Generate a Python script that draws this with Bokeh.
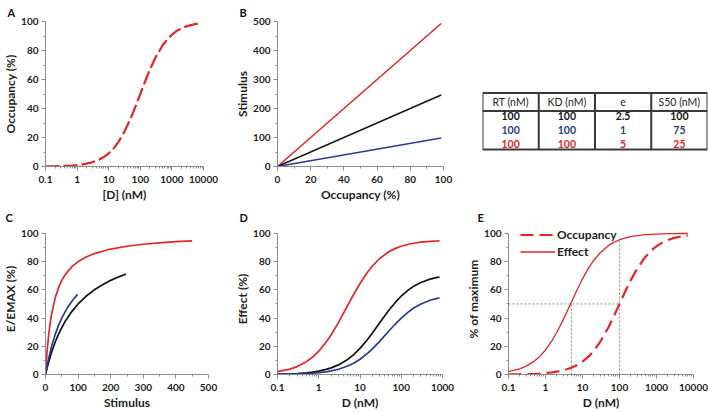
from bokeh.plotting import figure
from bokeh.layouts import row, column
from bokeh.models import Range1d, FixedTicker, Title, ColumnDataSource
from bokeh.embed import file_html
from bokeh.resources import INLINE
from bokeh.core.properties import value

RED = "#e3252b"
BLUE = "#273c8c"
BLACK = "#141414"
FONT = "Lato"

# ---------------- data ----------------
# Panel A / E : occupancy (%) vs [D] (nM)
d_conc = [0.1, 0.2, 0.3, 0.5, 0.7, 1, 1.5, 2, 3, 5, 7, 10, 15, 20, 30, 50, 70,
          100, 150, 200, 300, 500, 700, 1000, 1500, 2000, 3000, 5000, 7000]
occupancy = [0.1, 0.2, 0.3, 0.5, 0.7, 1.0, 1.5, 2.0, 2.9, 4.8, 6.5, 9.1, 13.0, 16.7,
             23.1, 33.3, 41.2, 50.0, 60.0, 66.7, 75.0, 83.3, 87.5, 90.9, 93.8, 95.2,
             96.8, 98.0, 98.6]
# Panel E : normalised effect (% of maximum)
effect_norm = [2.1, 4.0, 5.9, 9.5, 12.8, 17.4, 24.0, 29.6, 38.7, 51.2, 59.5, 67.8,
               75.9, 80.8, 86.3, 91.3, 93.6, 95.5, 96.9, 97.7, 98.4, 99.1, 99.3,
               99.5, 99.7, 99.8, 99.8, 99.9, 99.9]
e_half = 50
e_ec50 = 5
e_kd = 100
e_eff_at_kd = 95.5

# Panel B : stimulus vs occupancy
b_occ = [0, 98.6]
b_red = [0, 493]
b_black = [0, 246.5]
b_blue = [0, 98.6]

# Panel C : E/EMAX vs stimulus
c_red_s = [0, 2, 5, 10, 15, 20, 30, 40, 50, 60, 80, 100, 125, 150, 200, 250, 300, 350, 400, 450]
c_red_e = [0, 7.4, 16.7, 28.6, 37.5, 44.4, 54.5, 61.5, 66.7, 70.6, 76.2, 80.0, 83.3,
           85.7, 88.9, 90.9, 92.3, 93.3, 94.1, 94.7]
c_black_s = [0, 5, 10, 20, 30, 40, 50, 60, 80, 100, 125, 150, 175, 200, 225, 247]
c_black_e = [0, 4.8, 9.1, 16.7, 23.1, 28.6, 33.3, 37.5, 44.4, 50.0, 55.6, 60.0, 63.6,
             66.7, 69.2, 71.2]
c_blue_s = [0, 5, 10, 20, 30, 40, 50, 60, 70, 80, 90, 98.6]
c_blue_e = [0, 6.3, 11.8, 21.1, 28.6, 34.8, 40.0, 44.4, 48.3, 51.6, 54.5, 56.8]

# Panel D : effect (%) vs D (nM)
d_x = [0.1, 0.2, 0.3, 0.5, 0.7, 1, 1.5, 2, 3, 5, 7, 10, 15, 20, 30, 50, 70,
       100, 150, 200, 300, 500, 700, 850]
d_red = [2.0, 3.8, 5.6, 9.1, 12.2, 16.5, 22.8, 28.2, 36.8, 48.8, 56.7, 64.5, 72.3,
         76.9, 82.2, 87.0, 89.2, 90.9, 92.3, 93.0, 93.8, 94.3, 94.6, 94.7]
d_black = [0.2, 0.5, 0.7, 1.2, 1.7, 2.4, 3.6, 4.7, 6.8, 10.6, 14.1, 18.5, 24.6, 29.4,
           36.6, 45.5, 50.7, 55.6, 60.0, 62.5, 65.2, 67.6, 68.6, 69.1]
d_blue = [0.1, 0.3, 0.4, 0.7, 0.9, 1.3, 1.9, 2.6, 3.7, 6.0, 8.0, 10.8, 14.8, 18.2,
          23.5, 30.8, 35.4, 40.0, 44.4, 47.1, 50.0, 52.6, 53.8, 54.4]

# Table
table_headers = ["RT (nM)", "KD (nM)", "e", "S50 (nM)"]
table_rows = [["100", "100", "2.5", "100"],
              ["100", "100", "1", "75"],
              ["100", "100", "5", "25"]]
table_colors = [BLACK, BLUE, RED]

# Ticks
pct_ticks = [0, 20, 40, 60, 80, 100]
a_xticks = [0.1, 1, 10, 100, 1000, 10000]
a_xlabels = ["0.1", "1", "10", "100", "1000", "10000"]
b_yticks = [0, 100, 200, 300, 400, 500]
c_xticks = [0, 100, 200, 300, 400, 500]
d_xticks = [0.1, 1, 10, 100, 1000]
d_xlabels = ["0.1", "1", "10", "100", "1000"]


def lin_minor(t):
    return [(a + b) / 2 for a, b in zip(t[:-1], t[1:])]


def log_minor(t):
    out = []
    for base in t[:-1]:
        out += [m * base for m in range(2, 10)]
    return out


def make_fig(w, h, left, right, top, bottom, xlog=False, xr=(0, 1), yr=(0, 1)):
    p = figure(width=w, height=h, output_backend="svg", toolbar_location=None,
               x_axis_type="log" if xlog else "linear",
               x_range=Range1d(*xr), y_range=Range1d(*yr),
               min_border_left=left, min_border_right=right,
               min_border_top=top, min_border_bottom=bottom)
    p.outline_line_color = None
    p.grid.visible = False
    p.background_fill_color = "white"
    p.border_fill_color = "white"
    return p


def style_axes(p, xlabel, ylabel, xticks, yticks, xlog=False, xlabels=None, ybounds=None):
    for ax in p.axis:
        ax.axis_line_color = "#8c8c8c"
        ax.axis_line_width = 1
        ax.major_tick_line_color = "#8c8c8c"
        ax.minor_tick_line_color = "#8c8c8c"
        ax.major_tick_in = 0
        ax.major_tick_out = 4
        ax.minor_tick_in = 0
        ax.minor_tick_out = 2
        ax.major_label_text_font = FONT
        ax.major_label_text_font_style = "bold"
        ax.major_label_text_font_size = "10px"
        ax.major_label_text_color = "#1c1c1c"
        ax.axis_label_text_font = FONT
        ax.axis_label_text_font_style = "bold"
        ax.axis_label_text_font_size = "12px"
        ax.axis_label_text_color = "#1c1c1c"
    p.xaxis.major_label_standoff = 5
    p.xaxis.axis_label_standoff = 1
    p.yaxis.major_label_standoff = 3
    p.yaxis.axis_label_standoff = 0
    p.xaxis.axis_label = xlabel
    p.yaxis.axis_label = ylabel
    if xlog:
        p.xaxis.ticker = FixedTicker(ticks=xticks, minor_ticks=log_minor(xticks))
        p.xaxis.major_label_overrides = {t: l for t, l in zip(xticks, xlabels)}
    else:
        p.xaxis.ticker = FixedTicker(ticks=xticks, minor_ticks=lin_minor(xticks))
    p.yaxis.ticker = FixedTicker(ticks=yticks, minor_ticks=lin_minor(yticks))
    if ybounds is not None:
        p.yaxis.bounds = ybounds


def letter(p, txt, offset, standoff):
    p.title = Title(text=txt, align="left", offset=offset, standoff=standoff,
                    text_font=FONT, text_font_style="bold", text_font_size="11px",
                    text_color="#111111")


ROW1_H = 204
ROW2_H = 208
ROW2_YR = (0, 107)      # a little head-room above 100 for the legend of panel E

# ---------------- Panel A ----------------
pA = make_fig(230, ROW1_H, 40, 27, 20, 38, xlog=True, xr=(0.1, 10000), yr=(0, 100))
style_axes(pA, "[D] (nM)", "Occupancy (%)", a_xticks, pct_ticks, xlog=True, xlabels=a_xlabels)
pA.line(d_conc, occupancy, color=RED, line_width=2.2, line_dash="14 4")
letter(pA, "A", -38, 6)

# ---------------- Panel B ----------------
pB = make_fig(230, ROW1_H, 47, 17, 20, 38, xr=(0, 100), yr=(0, 500))
style_axes(pB, "Occupancy (%)", "Stimulus", pct_ticks, b_yticks)
pB.line(b_occ, b_red, color=RED, line_width=1.5)
pB.line(b_occ, b_black, color=BLACK, line_width=1.5)
pB.line(b_occ, b_blue, color=BLUE, line_width=1.5)
letter(pB, "B", -38, 6)

# ---------------- Table ----------------
# frame shares the row's frame (20 .. 166 px); table sits at 92 .. 149 px
ncol = len(table_headers)
nrow = len(table_rows)
row_px = 14.0
frame_px = 146.0
table_top_px = 72.0
head_h = 18.0 / row_px
total_h = 57.0 / row_px
pT = make_fig(248, ROW1_H, 22, 1, 20, 38, xr=(0, ncol),
              yr=((frame_px - table_top_px) / row_px, -table_top_px / row_px))
pT.axis.visible = False
pT.quad(left=[0], right=[ncol], top=[0], bottom=[total_h], fill_color=None,
        line_color="#3a3a3a", line_width=2)
pT.segment(x0=list(range(1, ncol)), x1=list(range(1, ncol)), y0=[0] * (ncol - 1),
           y1=[total_h] * (ncol - 1), line_color="#3a3a3a", line_width=2)
pT.segment(x0=[0], x1=[ncol], y0=[head_h], y1=[head_h], line_color="#3a3a3a", line_width=2)
pT.text(x=[i + 0.5 for i in range(ncol)], y=[head_h / 2] * ncol, text=table_headers,
        text_align="center", text_baseline="middle", text_font=value(FONT),
        text_font_size="10.5px", text_color="#222222")
tx, ty, tt, tc = [], [], [], []
for r, (vals, col) in enumerate(zip(table_rows, table_colors)):
    for c, v in enumerate(vals):
        tx.append(c + 0.5)
        ty.append(head_h + 0.36 + r)
        tt.append(v)
        tc.append(col)
pT.text(x="x", y="y", text="t", text_color="c",
        source=ColumnDataSource(dict(x=tx, y=ty, t=tt, c=tc)),
        text_align="center", text_baseline="middle", text_font=value(FONT),
        text_font_style="bold", text_font_size="10.5px")

# ---------------- Panel C ----------------
pC = make_fig(230, ROW2_H, 42, 22, 19, 38, xr=(0, 500), yr=ROW2_YR)
style_axes(pC, "Stimulus", "E/EMAX (%)", c_xticks, pct_ticks, ybounds=(0, 100))
pC.line(c_red_s, c_red_e, color=RED, line_width=1.7)
pC.line(c_black_s, c_black_e, color=BLACK, line_width=1.7)
pC.line(c_blue_s, c_blue_e, color=BLUE, line_width=1.7)
letter(pC, "C", -40, 0)

# ---------------- Panel D ----------------
pD = make_fig(230, ROW2_H, 47, 18, 19, 38, xlog=True, xr=(0.1, 1000), yr=ROW2_YR)
style_axes(pD, "D (nM)", "Effect (%)", d_xticks, pct_ticks, xlog=True, xlabels=d_xlabels,
           ybounds=(0, 100))
pD.line(d_x, d_red, color=RED, line_width=1.7)
pD.line(d_x, d_black, color=BLACK, line_width=1.7)
pD.line(d_x, d_blue, color=BLUE, line_width=1.7)
letter(pD, "D", -38, 0)

# ---------------- Panel E ----------------
pE = make_fig(248, ROW2_H, 48, 15, 19, 38, xlog=True, xr=(0.1, 10000), yr=ROW2_YR)
style_axes(pE, "D (nM)", "% of maximum", a_xticks, pct_ticks, xlog=True, xlabels=a_xlabels,
           ybounds=(0, 100))
pE.segment(x0=[0.1, e_ec50, e_kd], x1=[e_kd, e_ec50, e_kd], y0=[e_half, 0, 0],
           y1=[e_half, e_half, e_eff_at_kd], line_color="#8a8a8a", line_width=1,
           line_dash="2 2")
occ_r = pE.line(d_conc, occupancy, color=RED, line_width=2.2, line_dash="13 6",
                legend_label="Occupancy")
eff_r = pE.line(d_conc, effect_norm, color=RED, line_width=1.3, legend_label="Effect")
lg = pE.legend[0]
lg.location = (12, 114)
lg.background_fill_alpha = 0
lg.border_line_color = None
lg.padding = 0
lg.margin = 0
lg.spacing = 0
lg.glyph_width = 35
lg.glyph_height = 17
lg.label_height = 17
lg.label_standoff = 2
lg.label_text_font = FONT
lg.label_text_font_style = "bold"
lg.label_text_font_size = "12px"
lg.label_text_color = "#1c1c1c"
letter(pE, "E", -31, 0)

root = column(row(pA, pB, pT), row(pC, pD, pE))

open("out.html", "w").write(file_html(root, INLINE))
